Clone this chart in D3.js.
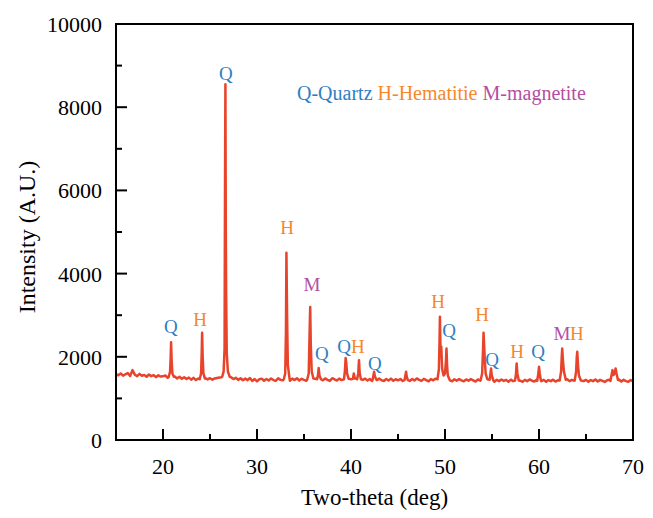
<!DOCTYPE html>
<html>
<head>
<meta charset="utf-8">
<script src="https://cdn.jsdelivr.net/npm/d3@7"></script>
<style>
  body { margin: 0; background: #fff; }
  svg text { font-family: "Liberation Serif", "Times New Roman", serif !important; }
</style>
</head>
<body>
<script>
// baseline counts, sampled every 0.25 deg from 15 to 70
var baseStart = 15, baseStep = 0.25;
var baseline = [
  1585, 1555, 1600, 1545, 1580, 1610, 1540, 1680, 1570, 1535, 1590, 1545, 1565, 1520, 1575, 1535, 1560, 1510, 1555, 1525,
  1530, 1550, 1495, 1535, 1505, 1525, 1480, 1520, 1470, 1510, 1465, 1500, 1450, 1495, 1440, 1480, 1435, 1475, 1485, 1455,
  1485, 1450, 1480, 1490, 1500, 1510, 1530, 1560, 1540, 1505, 1465, 1495, 1445, 1485, 1435, 1475, 1440, 1490, 1420, 1465,
  1410, 1460, 1475, 1425, 1465, 1430, 1480, 1440, 1420, 1485, 1445, 1435, 1410, 1465, 1425, 1475, 1440, 1485, 1430, 1470,
  1445, 1425, 1475, 1500, 1510, 1470, 1490, 1455, 1435, 1480, 1445, 1420, 1485, 1455, 1430, 1475, 1440, 1485, 1490, 1450,
  1460, 1520, 1480, 1490, 1470, 1445, 1475, 1430, 1465, 1420, 1485, 1440, 1475, 1435, 1420, 1465, 1430, 1475, 1425, 1460,
  1435, 1465, 1420, 1475, 1445, 1420, 1465, 1430, 1480, 1445, 1420, 1470, 1440, 1410, 1465, 1435, 1475, 1445, 1460, 1470,
  1480, 1460, 1435, 1410, 1460, 1425, 1465, 1435, 1410, 1455, 1425, 1465, 1435, 1405, 1455, 1425, 1465, 1470, 1450, 1440,
  1425, 1400, 1445, 1415, 1455, 1420, 1445, 1400, 1450, 1415, 1440, 1455, 1425, 1400, 1445, 1415, 1455, 1425, 1405, 1445,
  1450, 1415, 1445, 1400, 1440, 1415, 1450, 1405, 1435, 1455, 1440, 1420, 1460, 1415, 1445, 1425, 1450, 1460, 1430, 1415,
  1445, 1400, 1440, 1415, 1455, 1405, 1445, 1420, 1395, 1435, 1450, 1415, 1445, 1425, 1455, 1405, 1445, 1415, 1400, 1440,
  1415
];

// diffraction peaks, each as [2theta, counts] points
var peaks = [
  [[20.6,1510],[20.75,1640],[20.82,2000],[20.86,2350],[20.92,1900],[21.0,1600],[21.15,1520]],
  [[23.9,1460],[24.05,1600],[24.12,2100],[24.16,2580],[24.22,2000],[24.3,1600],[24.45,1480]],
  [[26.3,1520],[26.45,1650],[26.55,2200],[26.6,6250],[26.64,8550],[26.68,5100],[26.72,3500],[26.78,2100],[26.9,1650],[27.1,1520]],
  [[32.85,1460],[33.0,1600],[33.08,2600],[33.13,4500],[33.2,3000],[33.28,1800],[33.45,1500]],
  [[35.35,1460],[35.5,1600],[35.6,2600],[35.66,3200],[35.72,2300],[35.82,1650],[36.0,1480]],
  [[36.4,1460],[36.5,1580],[36.56,1730],[36.64,1560],[36.8,1460]],
  [[39.25,1460],[39.35,1650],[39.43,1970],[39.5,1850],[39.58,1600],[39.75,1470]],
  [[40.2,1470],[40.3,1600],[40.4,1480]],
  [[40.65,1460],[40.77,1600],[40.85,1920],[40.92,1620],[41.05,1460]],
  [[42.3,1450],[42.4,1560],[42.46,1640],[42.54,1530],[42.7,1450]],
  [[45.7,1440],[45.8,1570],[45.86,1640],[45.93,1520],[46.05,1440]],
  [[49.2,1460],[49.35,1700],[49.42,2400],[49.46,2960],[49.52,2200],[49.6,2250],[49.7,1700],[49.85,1550],
   [50.0,1600],[50.1,1900],[50.16,2200],[50.22,1800],[50.3,1550],[50.5,1440]],
  [[53.8,1440],[53.95,1600],[54.05,2200],[54.1,2580],[54.16,2300],[54.22,2000],[54.32,1600],[54.5,1460],
   [54.75,1450],[54.85,1620],[54.9,1720],[54.97,1560],[55.15,1430]],
  [[57.45,1430],[57.55,1580],[57.62,1840],[57.7,1600],[57.85,1430]],
  [[59.8,1420],[59.92,1580],[60.0,1760],[60.08,1600],[60.2,1430]],
  [[62.2,1430],[62.35,1650],[62.42,2000],[62.47,2200],[62.55,1900],[62.65,1650],[62.85,1450]],
  [[63.8,1430],[63.95,1650],[64.02,2000],[64.07,2120],[64.15,1800],[64.25,1550],[64.45,1430]],
  [[67.6,1420],[67.75,1600],[67.82,1680],[67.92,1560],[68.05,1600],[68.15,1720],[68.25,1600],[68.4,1440]]
];

// phase labels: [text, 2theta, counts]
var peakLabels = [
  ["Q", 20.85, 2740], ["H", 23.95, 2910], ["Q", 26.7, 8820], ["H", 33.2, 5100],
  ["M", 35.85, 3750], ["Q", 36.9, 2090], ["Q", 39.26, 2240], ["H", 40.74, 2240],
  ["Q", 42.55, 1850], ["H", 49.26, 3340], ["Q", 50.43, 2640], ["H", 53.94, 3030],
  ["Q", 55.0, 1950], ["H", 57.66, 2140], ["Q", 59.9, 2120], ["M", 62.45, 2570],
  ["H", 64.04, 2570]
];

var legendItems = [["Q", "Q-Quartz"], ["H", "H-Hematitie"], ["M", "M-magnetite"]];
var phaseColor = { Q: "#2E7EC5", H: "#F5882C", M: "#B44FA3" };

var xTicks = [20, 30, 40, 50, 60, 70];
var yTicks = [0, 2000, 4000, 6000, 8000, 10000];

var width = 653, height = 518;
var margin = { top: 24, left: 116, right: 20, bottom: 78 };
var fontFam = "Liberation Serif";

var svg = d3.select("body").append("svg")
            .attr("width", width)
            .attr("height", height)
            .attr("font-family", fontFam);

var x = d3.scaleLinear().domain([15, 70]).range([margin.left, width - margin.right]);
var y = d3.scaleLinear().domain([0, 10000]).range([height - margin.bottom, margin.top]);

// build the pattern: baseline points outside peak ranges plus the peak points
var pattern = [];
baseline.forEach((v, i) => {
  var t = baseStart + i * baseStep;
  var inPeak = peaks.some(p => t >= p[0][0] && t <= p[p.length - 1][0]);
  if (!inPeak) pattern.push([t, v]);
});
peaks.forEach(p => p.forEach(d => pattern.push(d)));
pattern.sort((a, b) => a[0] - b[0]);

var line = d3.line()
             .x(d => x(d[0]))
             .y(d => y(d[1]));

svg.append("path")
   .datum(pattern)
   .attr("fill", "none")
   .attr("stroke", "#E8442B")
   .attr("stroke-width", 2.5)
   .attr("stroke-linejoin", "round")
   .attr("d", line);

// inward ticks
svg.selectAll("line.xtick")
   .data(d3.range(20, 70, 5))
   .enter().append("line")
   .attr("x1", d => x(d)).attr("x2", d => x(d))
   .attr("y1", y(0))
   .attr("y2", d => y(0) - (d % 10 === 0 ? 11 : 6))
   .attr("stroke", "#000").attr("stroke-width", 2);

svg.selectAll("line.ytick")
   .data(d3.range(1000, 10000, 1000))
   .enter().append("line")
   .attr("x1", x(15))
   .attr("x2", d => x(15) + (d % 2000 === 0 ? 11 : 6))
   .attr("y1", d => y(d)).attr("y2", d => y(d))
   .attr("stroke", "#000").attr("stroke-width", 2);

svg.selectAll("text.xlabel")
   .data(xTicks)
   .enter().append("text")
   .attr("x", d => x(d))
   .attr("y", y(0) + 34)
   .attr("text-anchor", "middle")
   .attr("font-family", fontFam)
   .attr("font-size", 22)
   .text(d => d);

svg.selectAll("text.ylabel")
   .data(yTicks)
   .enter().append("text")
   .attr("x", x(15) - 14)
   .attr("y", d => y(d) + 8)
   .attr("text-anchor", "end")
   .attr("font-family", fontFam)
   .attr("font-size", 22)
   .text(d => d);

// frame
svg.append("rect")
   .attr("x", x(15)).attr("y", y(10000))
   .attr("width", x(70) - x(15))
   .attr("height", y(0) - y(10000))
   .attr("fill", "none")
   .attr("stroke", "#000")
   .attr("stroke-width", 2);

svg.append("text")
   .attr("x", (x(15) + x(70)) / 2)
   .attr("y", 505)
   .attr("text-anchor", "middle")
   .attr("font-family", fontFam)
   .attr("font-size", 23)
   .text("Two-theta (deg)");

svg.append("text")
   .attr("transform", "translate(35,237) rotate(-90)")
   .attr("text-anchor", "middle")
   .attr("font-family", fontFam)
   .attr("font-size", 24)
   .text("Intensity (A.U.)");

svg.selectAll("text.peak")
   .data(peakLabels)
   .enter().append("text")
   .attr("x", d => x(d[1]))
   .attr("y", d => y(d[2]))
   .attr("dy", "0.35em")
   .attr("text-anchor", "middle")
   .attr("font-family", fontFam)
   .attr("font-size", 19)
   .attr("fill", d => phaseColor[d[0]])
   .text(d => d[0]);

var legendText = svg.append("text")
   .attr("x", 297)
   .attr("y", 100)
   .attr("font-family", fontFam)
   .attr("font-size", 20);

legendItems.forEach((d, i) => {
  legendText.append("tspan")
    .attr("fill", phaseColor[d[0]])
    .text((i > 0 ? " " : "") + d[1]);
});
</script>
</body>
</html>
